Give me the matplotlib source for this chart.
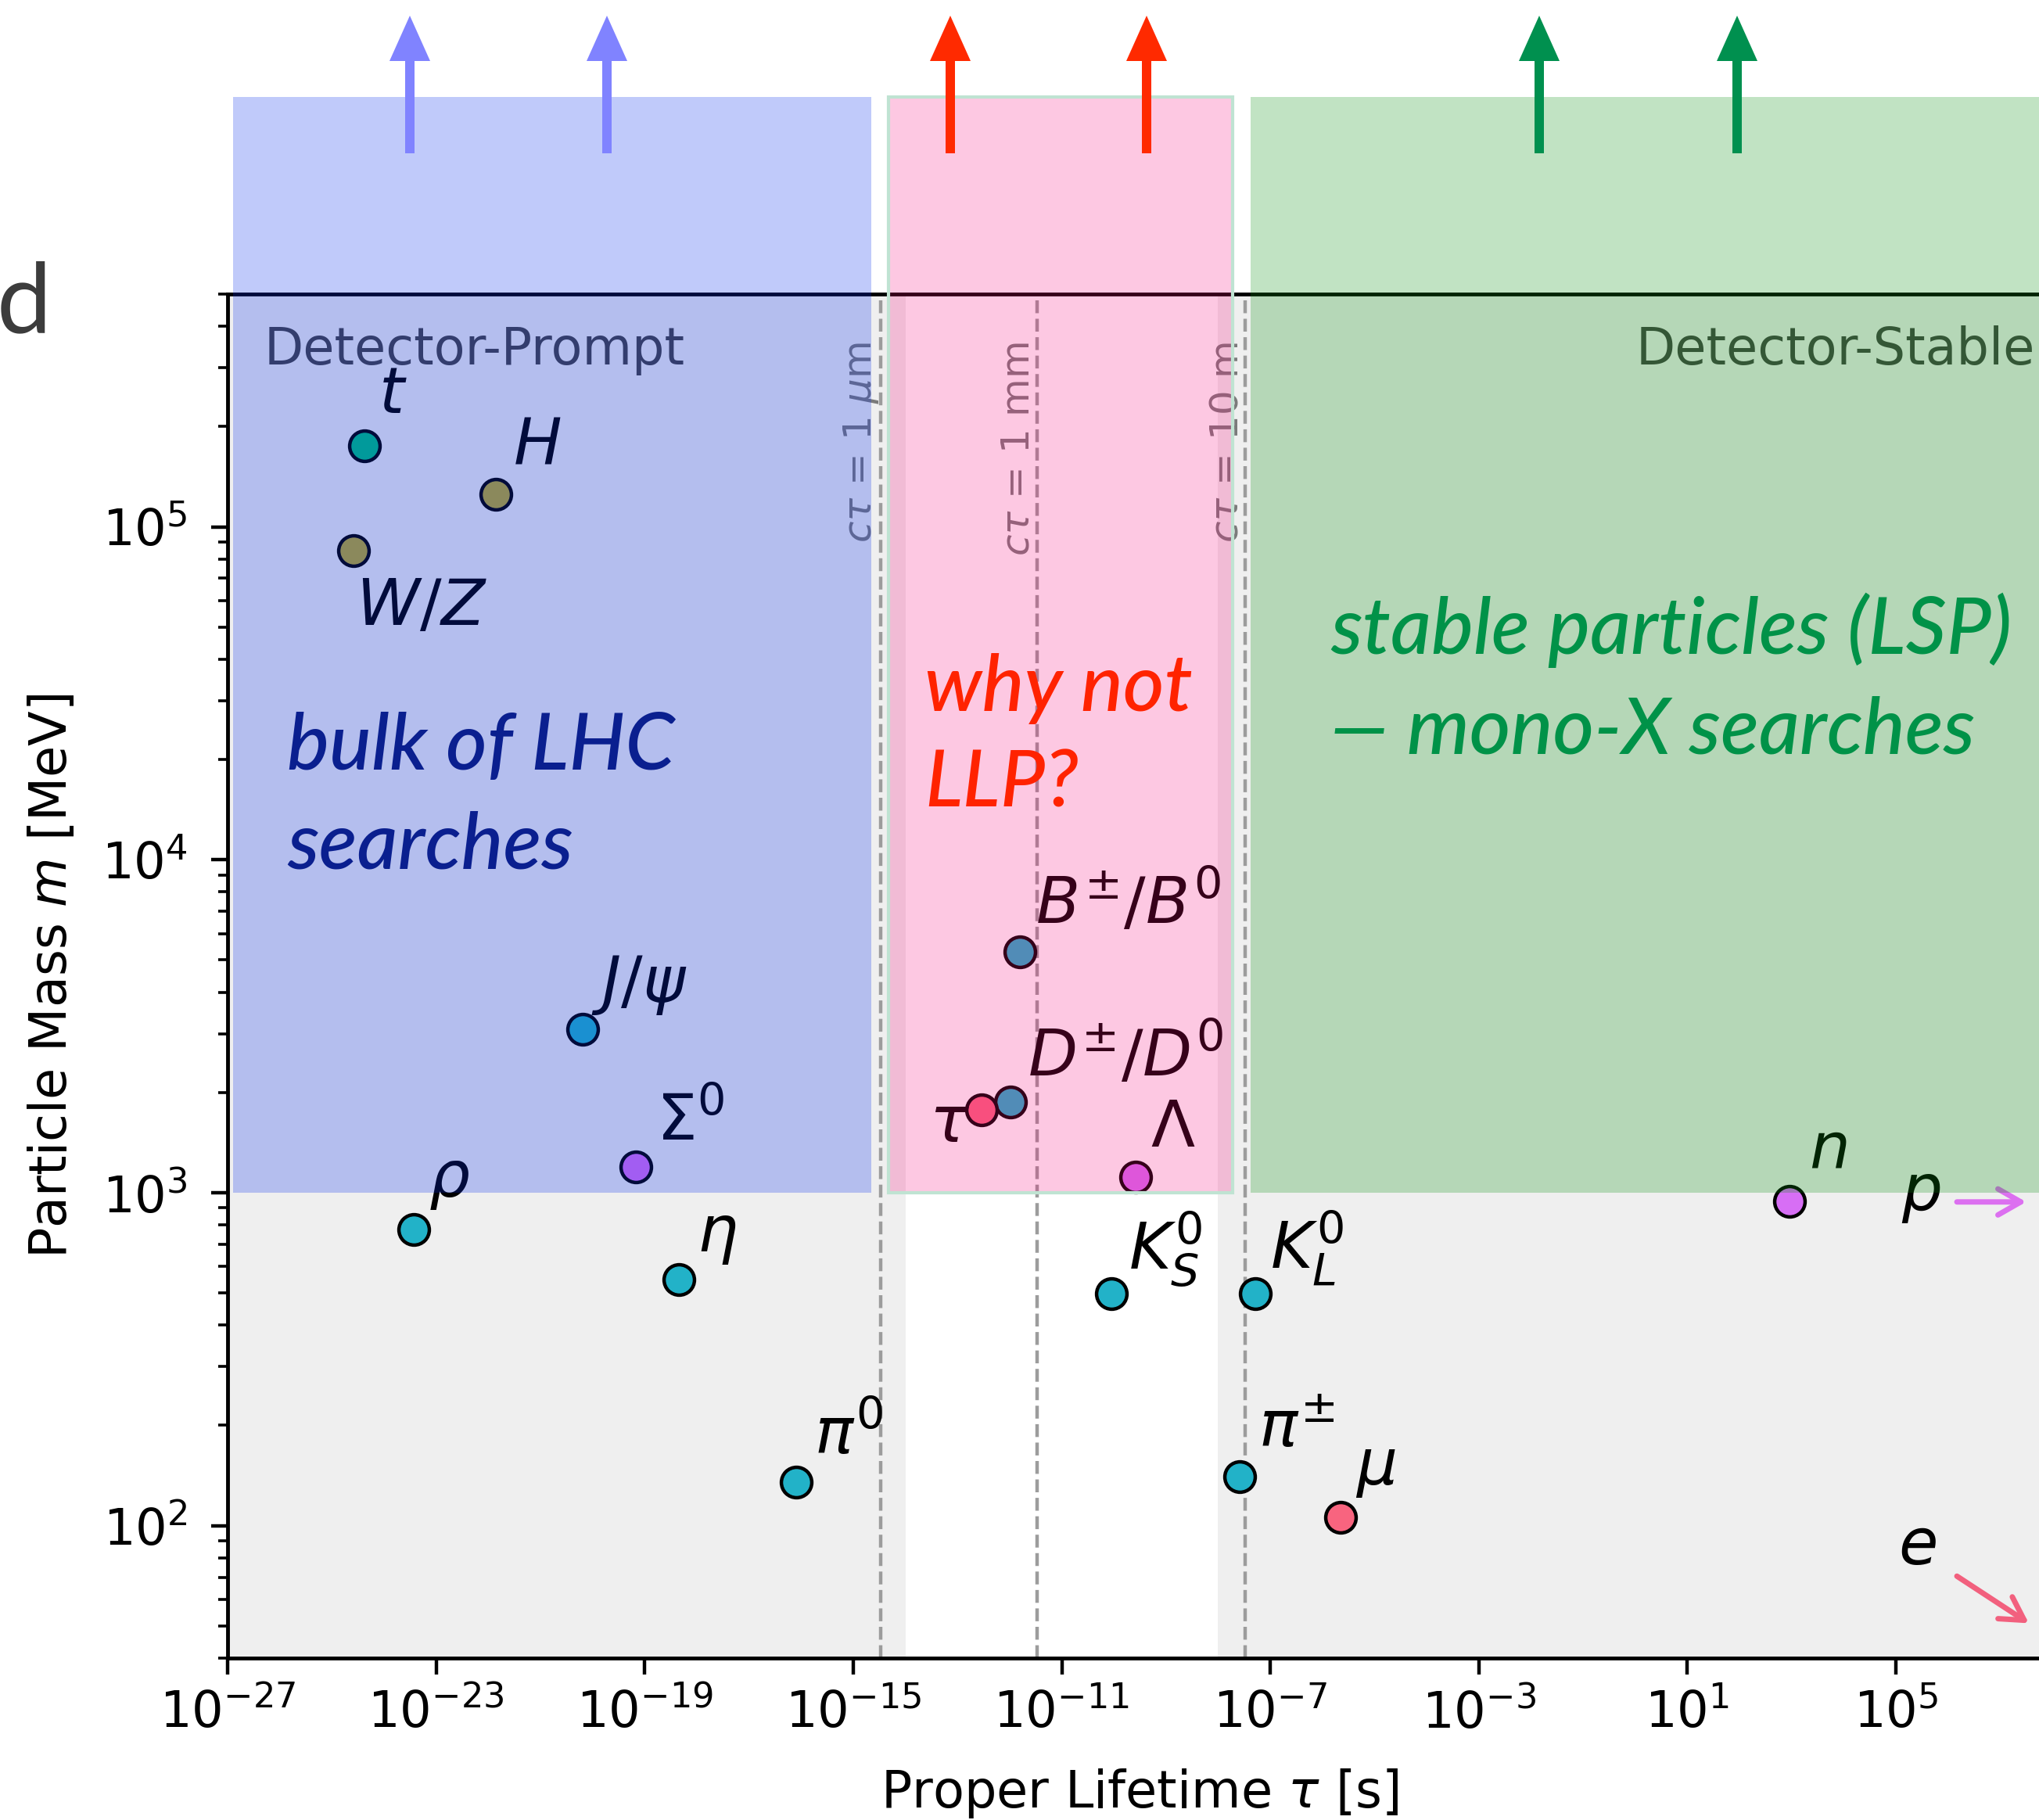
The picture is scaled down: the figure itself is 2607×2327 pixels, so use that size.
import matplotlib.pyplot as plt
from matplotlib.patches import Rectangle, FancyArrow

# particles
names = ['t', 'H', 'W/Z', 'J/psi', 'Sigma0', 'rho', 'eta', 'pi0', 'B', 'D',
         'tau', 'Lambda', 'KS', 'KL', 'pi+-', 'mu', 'n']
labels = [r'$t$', r'$H$', r'$W/Z$', r'$J/\psi$', r'$\Sigma^0$', r'$\rho$', r'$\eta$',
          r'$\pi^0$', r'$B^{\pm}/B^0$', r'$D^{\pm}/D^0$', r'$\tau$', r'$\Lambda$',
          r'$K^0_S$', r'$K^0_L$', r'$\pi^{\pm}$', r'$\mu$', r'$n$']
lifetime_s = [4.2e-25, 1.4e-22, 2.6e-25, 6.5e-21, 6.7e-20, 3.7e-24, 4.6e-19,
              8.0e-17, 1.6e-12, 1.04e-12, 2.9e-13, 2.6e-10, 8.9e-11, 5.1e-8,
              2.6e-8, 2.2e-6, 900.0]
mass_mev = [1.75e5, 1.25e5, 8.5e4, 3100, 1192, 775, 548, 135, 5280, 1870,
            1777, 1116, 498, 498, 140, 106, 940]
kind = ['top', 'boson', 'boson', 'meson', 'baryon', 'meson', 'meson', 'meson',
        'meson', 'meson', 'lepton', 'baryon', 'meson', 'meson', 'meson',
        'lepton', 'baryon']

# c*tau reference lines
ctau_s = [3.34e-15, 3.34e-12, 3.34e-8]
ctau_text = [r'$c\tau$ = 1 $\mu$m', r'$c\tau$ = 1 mm', r'$c\tau$ = 10 m']

xtick_exp = [-27, -23, -19, -15, -11, -7, -3, 1, 5]

colors = {'meson': '#22b2c8', 'baryon': '#d76ef5', 'lepton': '#f8647f',
          'boson': '#b9a92c', 'top': '#00c080'}

# where each particle label sits (offset points, alignment)
label_pos = {
    't': (13, 30, 'left', 'baseline'), 'H': (16, 28, 'left', 'baseline'),
    'W/Z': (2, -24, 'left', 'top'), 'J/psi': (8, 25, 'left', 'baseline'),
    'Sigma0': (19, 25, 'left', 'baseline'), 'rho': (14, 30, 'left', 'baseline'),
    'eta': (16, 26, 'left', 'baseline'), 'pi0': (17, 26, 'left', 'baseline'),
    'B': (14, 26, 'left', 'baseline'), 'D': (16, 24, 'left', 'baseline'),
    'tau': (-11, -30, 'right', 'baseline'), 'Lambda': (14, 28, 'left', 'baseline'),
    'KS': (16, 23, 'left', 'baseline'), 'KL': (14, 23, 'left', 'baseline'),
    'pi+-': (17, 28, 'left', 'baseline'), 'mu': (14, 30, 'left', 'baseline'),
    'n': (18, 31, 'left', 'baseline'),
}

W, H = 2607, 2327
fig = plt.figure(figsize=(W / 100, H / 100), dpi=100)
ax = fig.add_axes([291 / W, 207 / H, 2333 / W, 1744 / H])
ax.set_xscale('log')
ax.set_yscale('log')
ax.set_xlim(1e-27, 1e8)
ax.set_ylim(40, 5e5)

# prompt / stable background bands
ax.axvspan(1e-27, 1e-14, color='#efefef', lw=0, zorder=0)
ax.axvspan(1e-8, 1e8, color='#efefef', lw=0, zorder=0)

for xs, txt in zip(ctau_s, ctau_text):
    ax.axvline(xs, color='#9c9c9c', lw=3.2, ls='--', zorder=1)
    ax.text(xs, 3.6e5, txt, rotation=90, ha='right', va='top', fontsize=36,
            color='#7a7a7a', zorder=1)

ax.text(10**-26.3, 3.08e5, 'Detector-Prompt', fontsize=47, color='#444444',
        va='baseline', ha='left')
ax.text(10**7.67, 3.08e5, 'Detector-Stable', fontsize=47, color='#444444',
        va='baseline', ha='right')

for nm, lab, x, y, k in zip(names, labels, lifetime_s, mass_mev, kind):
    ax.plot(x, y, 'o', ms=28, mfc=colors[k], mec='black', mew=3.2, zorder=3)
    dx, dy, ha, va = label_pos[nm]
    ax.annotate(lab, (x, y), xytext=(dx, dy), textcoords='offset points',
                ha=ha, va=va, fontsize=59, zorder=4)

# p and e live beyond the right edge
ax.text(1.26e5, 889, r'$p$', fontsize=59, va='baseline')
ax.annotate('', xy=(10**7.5, 938), xytext=(10**6.17, 938),
            arrowprops=dict(arrowstyle='->,head_length=0.7,head_width=0.4',
                            color='#dc70f0', lw=5, mutation_scale=30,
                            shrinkA=0, shrinkB=0))
ax.text(1.12e5, 76.4, r'$e$', fontsize=59, va='baseline')
ax.annotate('', xy=(10**7.55, 50.9), xytext=(10**6.17, 70.5),
            arrowprops=dict(arrowstyle='->,head_length=0.7,head_width=0.4',
                            color='#f2607e', lw=5, mutation_scale=30,
                            shrinkA=0, shrinkB=0))

ax.set_xticks([10.0**e for e in xtick_exp])
ax.xaxis.set_minor_locator(plt.NullLocator())
ax.set_yticks([1e2, 1e3, 1e4, 1e5])
ax.tick_params(which='major', labelsize=46, length=15, width=3.2)
ax.tick_params(axis='x', pad=13)
ax.tick_params(axis='y', pad=22)
ax.tick_params(which='minor', length=8.5, width=2.6)
for s in ax.spines.values():
    s.set_linewidth(3.5)
ax.set_xlabel(r'Proper Lifetime $\tau$ [s]', fontsize=47, labelpad=26)
ax.set_ylabel(r'Particle Mass $m$ [MeV]', fontsize=47, labelpad=22)

# translucent slide boxes on top of the plot
zones = [(10**-26.9, 10**-14.65, '#042cec', 0.25),
         (10**-14.33, 10**-7.72, '#fa057b', 0.22),
         (10**-7.37, 1e9, '#089010', 0.25)]
for x0, x1, c, a in zones:
    fig.add_artist(Rectangle((x0, 1e3), x1 - x0, 1.95e6 - 1e3,
                             transform=ax.transData, facecolor=c, alpha=a,
                             lw=0, zorder=1))
x0, x1 = zones[1][0], zones[1][1]
fig.add_artist(Rectangle((x0, 1e3), x1 - x0, 1.95e6 - 1e3, transform=ax.transData,
                         fill=False, edgecolor='#bfe3d2', lw=3, zorder=1))

arrow_x = [524, 776, 1215, 1466, 1968, 2221]
arrow_c = ['#8083ff', '#8083ff', '#ff2a00', '#ff2a00', '#00904f', '#00904f']
for xp, c in zip(arrow_x, arrow_c):
    fig.add_artist(FancyArrow(xp / W, 1 - 196 / H, 0, 176 / H, width=12 / W,
                              head_width=52 / W, head_length=58 / H,
                              length_includes_head=True, color=c, lw=0,
                              transform=fig.transFigure, zorder=2))

slide = dict(family='Lato', style='italic', weight='medium', fontsize=73,
             va='baseline', ha='left')
fig.text(367 / W, 1 - 984 / H, 'bulk of LHC', color='#0a1f8f', **slide)
fig.text(367 / W, 1 - 1111 / H, 'searches', color='#0a1f8f', **slide)
fig.text(1182 / W, 1 - 909 / H, 'why not', color='#ff2300', **slide)
fig.text(1182 / W, 1 - 1032 / H, 'LLP?', color='#ff2300', **slide)
fig.text(1701 / W, 1 - 836 / H, 'stable particles (LSP)', color='#009248', **slide)
fig.text(1701 / W, 1 - 964 / H, '\u2014 mono-X searches', color='#009248', **slide)

fig.text(-4 / W, 1 - 424 / H, 'd', fontsize=90, color='#3c3c3c', family='Lato',
         weight='normal', va='baseline')

fig.savefig('out.png', dpi=100)
